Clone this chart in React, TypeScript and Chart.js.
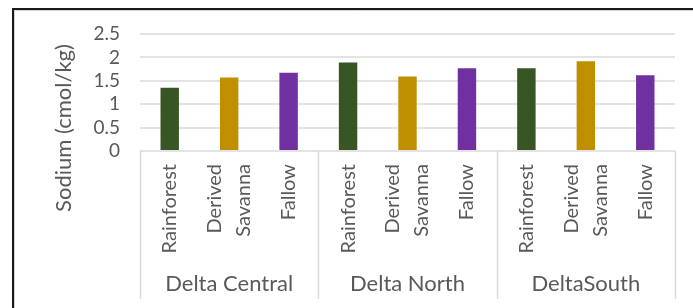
import React, { useEffect, useRef } from "react";
import { Chart, registerables } from "chart.js";

Chart.register(...registerables);

const groups = ["Delta Central", "Delta North", "DeltaSouth"];
const vegetation: string[][] = [["Rainforest"], ["Derived", "Savanna"], ["Fallow"]];
const categories = ["DC-Rainforest", "DC-Derived Savanna", "DC-Fallow", "DN-Rainforest", "DN-Derived Savanna", "DN-Fallow", "DS-Rainforest", "DS-Derived Savanna", "DS-Fallow"];
const sodium = [1.35, 1.57, 1.67, 1.89, 1.59, 1.77, 1.77, 1.92, 1.62];
const vegColors = ["#375623", "#BF8F00", "#7030A0"];
const yTitle = "Sodium (cmol/kg)";

const FONT = "Lato, 'Open Sans', sans-serif";
const TEXT = "#595959";

const overlay = {
  id: "overlay",
  beforeDraw(chart: any) {
    const ctx = chart.ctx;
    ctx.save();
    ctx.fillStyle = "#ffffff";
    ctx.fillRect(0, 0, chart.width, chart.height);
    ctx.restore();
  },
  afterDraw(chart: any) {
    const ctx = chart.ctx;
    const area = chart.chartArea;
    const xs = chart.scales.x;
    const n = categories.length;
    const step = (area.right - area.left) / n;
    ctx.save();
    // group separators
    ctx.strokeStyle = "#d9d9d9";
    ctx.lineWidth = 1.5;
    for (let g = 0; g <= groups.length; g++) {
      const x = Math.round(area.left + g * 3 * step) + 0.5;
      ctx.beginPath();
      ctx.moveTo(x, area.bottom);
      ctx.lineTo(x, 299);
      ctx.stroke();
    }
    // category labels
    ctx.fillStyle = TEXT;
    ctx.font = `20px ${FONT}`;
    ctx.textAlign = "right";
    ctx.textBaseline = "middle";
    const lh = 29;
    for (let i = 0; i < n; i++) {
      const lines = vegetation[i % 3];
      const cx = xs.getPixelForValue(i);
      for (let j = 0; j < lines.length; j++) {
        const off = (j - (lines.length - 1) / 2) * lh;
        ctx.save();
        ctx.translate(cx + off, 164);
        ctx.rotate(-Math.PI / 2);
        ctx.fillText(lines[j], 0, 0);
        ctx.restore();
      }
    }
    // group labels
    ctx.font = `22px ${FONT}`;
    ctx.textAlign = "center";
    ctx.textBaseline = "alphabetic";
    for (let g = 0; g < groups.length; g++) {
      const cx = area.left + (g * 3 + 1.5) * step;
      ctx.fillText(groups[g], cx, 291);
    }
    // y axis title
    ctx.save();
    ctx.font = `22px ${FONT}`;
    ctx.textAlign = "center";
    ctx.textBaseline = "middle";
    ctx.translate(64, 128);
    ctx.rotate(-Math.PI / 2);
    ctx.fillText(yTitle, 0, 0);
    ctx.restore();
    // frame
    ctx.strokeStyle = "#d4d4d4";
    ctx.lineWidth = 1;
    ctx.beginPath();
    ctx.moveTo(14.5, chart.height);
    ctx.lineTo(14.5, 10.5);
    ctx.lineTo(chart.width, 10.5);
    ctx.stroke();
    ctx.strokeStyle = "#1a1a1a";
    ctx.lineWidth = 2;
    ctx.beginPath();
    ctx.moveTo(13, chart.height);
    ctx.lineTo(13, 9);
    ctx.lineTo(chart.width, 9);
    ctx.stroke();
    ctx.restore();
  },
};

export default function App() {
  const ref = useRef<HTMLCanvasElement | null>(null);
  useEffect(() => {
    if (!ref.current) return;
    const chart = new Chart(ref.current, {
      type: "bar",
      data: {
        labels: categories,
        datasets: [
          {
            label: "Sodium",
            data: sodium,
            backgroundColor: sodium.map((_, i) => vegColors[i % 3]),
            barPercentage: 0.31,
            categoryPercentage: 1,
          },
        ],
      },
      options: {
        animation: false,
        responsive: false,
        layout: { padding: { top: 34, left: 14, right: 18, bottom: 0 } },
        plugins: { legend: { display: false }, tooltip: { enabled: false } },
        scales: {
          x: {
            ticks: { display: false },
            grid: { display: false },
            border: { display: false },
            afterFit: (s: any) => {
              s.height = 157;
            },
          },
          y: {
            min: 0,
            max: 2.5,
            ticks: {
              stepSize: 0.5,
              autoSkip: false,
              color: TEXT,
              font: { family: FONT, size: 19 },
              padding: 20,
              callback: (v: any) => String(Number(v)),
            },
            grid: { color: "#e3e3e3", lineWidth: 2, drawTicks: false },
            border: { display: false },
            afterFit: (s: any) => {
              s.width = 126;
            },
          },
        },
      },
      plugins: [overlay],
    });
    return () => chart.destroy();
  }, []);
  return (
    <div style={{ position: "absolute", left: 0, top: 0, width: 693, height: 308 }}>
      <canvas ref={ref} width={693} height={308} style={{ display: "block" }} />
    </div>
  );
}
